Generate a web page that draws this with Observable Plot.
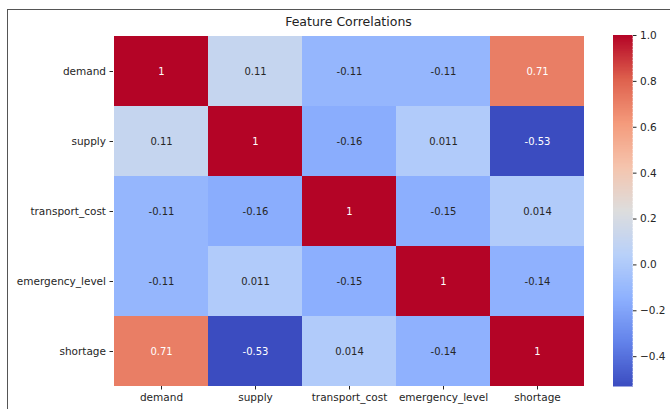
<!DOCTYPE html>
<html>
<head>
<meta charset="utf-8">
<script src="https://cdn.jsdelivr.net/npm/d3@7"></script>
<script src="https://cdn.jsdelivr.net/npm/@observablehq/plot@0.6"></script>
<style>
  html, body { margin: 0; padding: 0; background: #fff; }
  #wrap { position: relative; width: 670px; height: 409px; overflow: hidden; font-family: "DejaVu Sans", sans-serif; }
  #frame { position: absolute; left: 7px; top: 9px; width: 700px; height: 420px; border-left: 1.5px solid #555; border-top: 1.5px solid #555; }
  #title { position: absolute; left: 113px; width: 471px; top: 14px; text-align: center; font-size: 12.5px; color: #222; }
  #main { position: absolute; left: 0; top: 0; }
  #cbar { position: absolute; left: 613px; top: 0; }
</style>
</head>
<body>
<div id="wrap">
  <div id="frame"></div>
  <div id="title">Feature Correlations</div>
  <div id="main"></div>
  <div id="cbar"></div>
</div>
<script>
const features = ["demand", "supply", "transport_cost", "emergency_level", "shortage"];
const demandRow = [1, 0.11, -0.11, -0.11, 0.71];
const supplyRow = [0.11, 1, -0.16, 0.011, -0.53];
const transportRow = [-0.11, -0.16, 1, -0.15, 0.014];
const emergencyRow = [-0.11, 0.011, -0.15, 1, -0.14];
const shortageRow = [0.71, -0.53, 0.014, -0.14, 1];
const colorbarTicks = [-0.4, -0.2, 0.0, 0.2, 0.4, 0.6, 0.8, 1.0];

const rows = [demandRow, supplyRow, transportRow, emergencyRow, shortageRow];
const cells = [];
rows.forEach((r, i) => r.forEach((v, j) => cells.push({row: features[i], col: features[j], value: v})));

const vmin = d3.min(cells, d => d.value), vmax = d3.max(cells, d => d.value);

// coolwarm colormap key colours
const coolwarm = ["#3b4cc0", "#6282ea", "#8db0fe", "#b8d0f9", "#dddddd", "#f5c4ad", "#f49a7b", "#de604d", "#b40426"];
const interp = d3.piecewise(d3.interpolateRgb, coolwarm);
const colorScale = {type: "linear", domain: [vmin, vmax], interpolate: () => interp};

function luminance(c) {
  const rgb = d3.rgb(c);
  const f = x => { x /= 255; return x <= 0.03928 ? x / 12.92 : Math.pow((x + 0.055) / 1.055, 2.4); };
  return 0.2126 * f(rgb.r) + 0.7152 * f(rgb.g) + 0.0722 * f(rgb.b);
}
const textColor = d => luminance(interp((d.value - vmin) / (vmax - vmin))) > 0.408 ? "#262626" : "#ffffff";
const fmt = v => String(v);

const main = Plot.plot({
  width: 600, height: 409,
  marginLeft: 113, marginRight: 16, marginTop: 35, marginBottom: 23,
  style: {fontFamily: "DejaVu Sans, sans-serif", fontSize: "10px", color: "#262626", background: "transparent"},
  x: {domain: features, padding: 0, label: null, tickSize: 3.5, tickPadding: 4},
  y: {domain: features, padding: 0, label: null, tickSize: 3.5, tickPadding: 4},
  color: colorScale,
  marks: [
    Plot.cell(cells, {x: "col", y: "row", fill: "value", inset: 0, shapeRendering: "crispEdges"}),
    Plot.text(cells, {x: "col", y: "row", text: d => fmt(d.value), fill: textColor, fontSize: 10}),
    Plot.axisX({tickSize: 3.5, tickPadding: 4, fontSize: 10.5, label: null}),
    Plot.axisY({tickSize: 3.5, tickPadding: 4, fontSize: 10.5, label: null})
  ]
});
document.getElementById("main").appendChild(main);

const nSteps = 256;
const steps = d3.range(nSteps).map(i => ({
  y1: vmin + i * (vmax - vmin) / nSteps,
  y2: vmin + (i + 1) * (vmax - vmin) / nSteps
}));

const cbar = Plot.plot({
  width: 57, height: 409,
  marginLeft: 0, marginRight: 38, marginTop: 35, marginBottom: 23,
  style: {fontFamily: "DejaVu Sans, sans-serif", fontSize: "10.5px", color: "#262626", background: "transparent"},
  x: {domain: [0, 1], axis: null},
  y: {domain: [vmin, vmax], axis: null},
  color: colorScale,
  marks: [
    Plot.rect(steps, {x1: 0, x2: 1, y1: "y1", y2: "y2", fill: d => (d.y1 + d.y2) / 2, stroke: d => (d.y1 + d.y2) / 2, strokeWidth: 0.5, shapeRendering: "crispEdges"}),
    Plot.axisY({anchor: "right", ticks: colorbarTicks, tickFormat: d => d3.format(".1f")(d).replace("-", "\u2212"), tickSize: 3.5, tickPadding: 4, fontSize: 10.5, label: null})
  ]
});
document.getElementById("cbar").appendChild(cbar);
</script>
</body>
</html>
